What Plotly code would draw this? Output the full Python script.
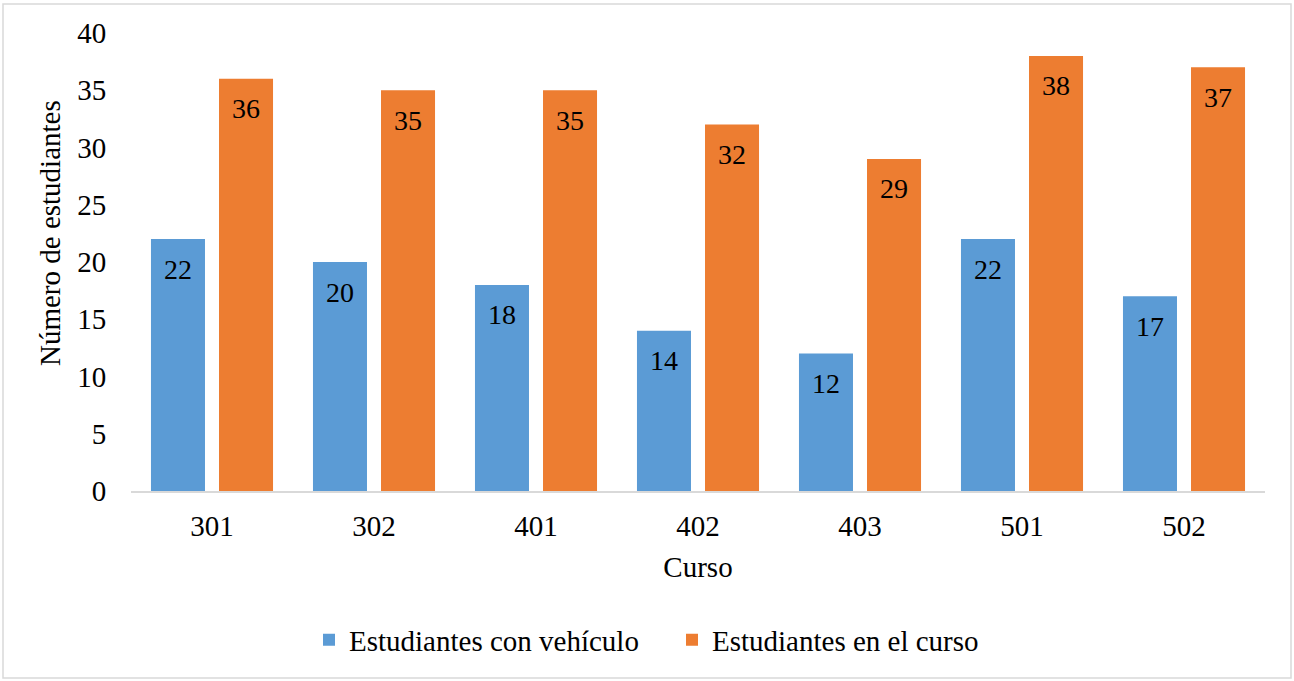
import plotly.graph_objects as go

cursos = ["301", "302", "401", "402", "403", "501", "502"]
con_vehiculo = [22, 20, 18, 14, 12, 22, 17]
en_curso = [36, 35, 35, 32, 29, 38, 37]

BLUE = "#5B9BD5"
ORANGE = "#ED7D31"
FONT = "Liberation Serif"

fig = go.Figure()
fig.add_trace(go.Bar(name="Estudiantes con vehículo", x=cursos, y=con_vehiculo,
                     marker=dict(color=BLUE, line=dict(width=0))))
fig.add_trace(go.Bar(name="Estudiantes en el curso", x=cursos, y=en_curso,
                     marker=dict(color=ORANGE, line=dict(width=0))))

W, H = 1294, 681
L, R, T, B = 131, 29, 33, 190
pw, ph = W - L - R, H - T - B

def px(x):
    return (x - L) / pw

def py(y):
    return (H - B - y) / ph

annotations = []
for series, shift in ((con_vehiculo, -34), (en_curso, 34)):
    for i, v in enumerate(series):
        annotations.append(dict(x=i, y=v, xref="x", yref="y", text=str(v), showarrow=False,
                                xshift=shift, yshift=-30, yanchor="middle",
                                font=dict(family=FONT, size=28, color="black")))

# y-axis title (placed slightly above the plot-area centre, as in the reference)
annotations.append(dict(text="Número de estudiantes", xref="paper", yref="paper",
                        x=px(50), y=py(233), xanchor="center", yanchor="middle",
                        textangle=-90, showarrow=False,
                        font=dict(family=FONT, size=29, color="black")))

fig.update_layout(
    width=W, height=H,
    margin=dict(l=L, r=R, t=T, b=B, autoexpand=False),
    paper_bgcolor="white", plot_bgcolor="white",
    font=dict(family=FONT, size=29, color="black"),
    barmode="group", bargap=0.16, bargroupgap=0.206,
    showlegend=True,
    legend=dict(orientation="h", x=px(309), xanchor="left", y=py(640), yanchor="middle",
                font=dict(family=FONT, size=29), itemsizing="constant", traceorder="normal",
                entrywidth=318, entrywidthmode="pixels"),
    xaxis=dict(type="category", automargin=False, range=[-0.5, len(cursos) - 0.5],
               showline=True, linecolor="#D9D9D9", linewidth=1.5, showgrid=False,
               ticks="outside", ticklen=8, tickcolor="rgba(0,0,0,0)",
               tickfont=dict(family=FONT, size=29),
               title=dict(text="Curso", font=dict(family=FONT, size=29), standoff=16)),
    yaxis=dict(range=[0, 40], dtick=5, showgrid=False, showline=False, zeroline=False,
               automargin=False,
               ticks="outside", ticklen=18, tickcolor="rgba(0,0,0,0)",
               tickfont=dict(family=FONT, size=29)),
    annotations=annotations,
    shapes=[dict(type="rect", xref="paper", yref="paper",
                 x0=px(3), x1=px(1291), y0=py(678), y1=py(4),
                 line=dict(color="#D9D9D9", width=1.5), fillcolor="rgba(0,0,0,0)", layer="below")],
)

fig.write_html("out.html", config={"displayModeBar": False},
               post_script="document.body.style.margin='0';")
